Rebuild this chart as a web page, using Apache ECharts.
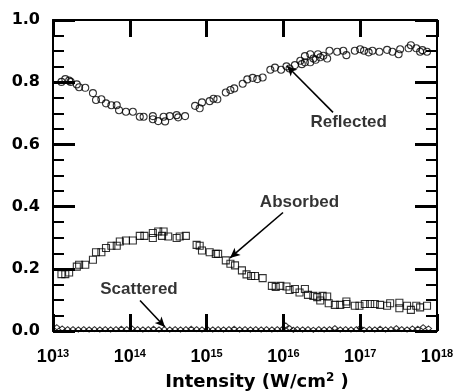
<!DOCTYPE html>
<html><head><meta charset="utf-8">
<script src="https://cdn.jsdelivr.net/npm/echarts/dist/echarts.min.js"></script>
<style>html,body{margin:0;padding:0;background:#fff}#c{width:454px;height:392px}</style>
</head><body><div id="c"></div><script>
// log10 of intensity (W/cm^2) and fractions
const reflectedLogI = [13.11,13.16,13.21,13.23,13.31,13.34,13.42,13.52,13.56,13.63,13.69,13.76,13.83,13.86,13.95,14.04,14.13,14.18,14.30,14.30,14.37,14.44,14.46,14.52,14.61,14.63,14.72,14.85,14.91,14.94,15.04,15.09,15.14,15.25,15.31,15.36,15.47,15.53,15.60,15.66,15.73,15.83,15.89,15.97,16.04,16.08,16.15,16.22,16.24,16.28,16.35,16.39,16.45,16.48,16.52,16.57,16.60,16.70,16.78,16.82,16.93,17.00,17.05,17.11,17.16,17.25,17.35,17.42,17.50,17.52,17.63,17.66,17.73,17.78,17.81,17.87,16.28,16.35,16.42];
const reflected = [0.801,0.810,0.805,0.801,0.793,0.784,0.782,0.765,0.743,0.745,0.732,0.726,0.726,0.710,0.705,0.705,0.689,0.689,0.691,0.681,0.675,0.689,0.674,0.691,0.694,0.687,0.691,0.724,0.716,0.735,0.739,0.747,0.745,0.767,0.775,0.780,0.795,0.809,0.814,0.810,0.815,0.840,0.847,0.840,0.851,0.844,0.855,0.869,0.858,0.864,0.864,0.876,0.890,0.880,0.885,0.876,0.901,0.898,0.901,0.887,0.901,0.906,0.901,0.896,0.901,0.898,0.904,0.898,0.890,0.906,0.909,0.919,0.909,0.898,0.903,0.898,0.884,0.890,0.872];

const absorbedLogI = [13.11,13.16,13.21,13.31,13.34,13.42,13.52,13.56,13.63,13.69,13.76,13.83,13.87,13.95,14.04,14.13,14.19,14.30,14.30,14.37,14.44,14.42,14.50,14.61,14.65,14.73,14.87,14.91,14.94,15.04,15.12,15.15,15.25,15.31,15.37,15.46,15.52,15.58,15.63,15.73,15.85,15.90,15.96,16.04,16.08,16.15,16.21,16.28,16.32,16.39,16.44,16.48,16.51,16.57,16.59,16.67,16.74,16.82,16.82,16.93,16.99,17.06,17.13,17.19,17.26,17.35,17.39,17.51,17.51,17.61,17.66,17.73,17.78,17.87];
const absorbed = [0.183,0.183,0.188,0.207,0.213,0.213,0.229,0.253,0.253,0.267,0.274,0.274,0.288,0.291,0.291,0.306,0.306,0.315,0.299,0.320,0.320,0.306,0.304,0.299,0.304,0.306,0.277,0.274,0.259,0.253,0.248,0.248,0.227,0.216,0.211,0.195,0.182,0.177,0.177,0.170,0.145,0.142,0.145,0.143,0.132,0.135,0.124,0.135,0.116,0.113,0.109,0.098,0.113,0.111,0.089,0.084,0.084,0.095,0.087,0.081,0.081,0.087,0.087,0.087,0.084,0.081,0.089,0.091,0.073,0.081,0.068,0.081,0.076,0.081];

const scatteredLogI = [13.05,13.12,13.19,13.26,13.33,13.40,13.47,13.54,13.61,13.68,13.75,13.82,13.89,13.96,14.03,14.10,14.17,14.24,14.31,14.38,14.45,14.52,14.59,14.66,14.73,14.80,14.87,14.94,15.01,15.08,15.15,15.22,15.29,15.36,15.43,15.50,15.57,15.64,15.71,15.78,15.85,15.92,15.99,16.03,16.08,16.13,16.18,16.25,16.32,16.39,16.46,16.53,16.60,16.67,16.74,16.81,16.88,16.95,17.00,17.05,17.12,17.19,17.26,17.33,17.40,17.47,17.54,17.61,17.68,17.75,17.82,17.89];
const scattered = [0.012,0.008,0.006,0.006,0.005,0.006,0.005,0.006,0.005,0.006,0.005,0.006,0.007,0.006,0.008,0.006,0.005,0.006,0.007,0.005,0.006,0.005,0.006,0.005,0.006,0.007,0.006,0.005,0.006,0.005,0.006,0.005,0.006,0.007,0.005,0.006,0.005,0.006,0.005,0.006,0.005,0.006,0.007,0.018,0.009,0.004,0.006,0.005,0.006,0.004,0.006,0.005,0.006,0.009,0.005,0.006,0.005,0.006,0.010,0.004,0.006,0.005,0.007,0.005,0.006,0.009,0.006,0.005,0.008,0.007,0.012,0.008];

const xTickExponents = [13,14,15,16,17,18];
const yTickLabels = ['0.0','0.2','0.4','0.6','0.8','1.0'];

const annotationNames = ['Reflected','Absorbed','Scattered'];
const annotationText = [[16.85,0.671],[16.21,0.413],[14.12,0.135]];
const annotationArrows = [[[16.646,0.703],[16.047,0.852]],[[15.995,0.381],[15.305,0.235]],[[14.133,0.098],[14.458,0.013]]];

const P = e => Math.pow(10, e);
const pairs = (xs, ys) => xs.map((x, i) => [P(x), ys[i]]);

const chart = echarts.init(document.getElementById('c'), null, {renderer:'canvas'});
function makeX(pos) {
  return {
    type:'log', logBase:10, position:pos, min:P(xTickExponents[0]), max:P(xTickExponents[xTickExponents.length-1]),
    axisLine:{show:true, onZero:false, lineStyle:{color:'#000', width:2}},
    axisTick:{show:true, inside:true, length:17, lineStyle:{color:'#000', width:3}},
    minorTick:{show:false}, splitLine:{show:false}
  };
}
function makeY(pos) {
  return {
    type:'value', position:pos, min:0, max:1, interval:0.2,
    axisLine:{show:true, onZero:false, lineStyle:{color:'#000', width:2}},
    axisTick:{show:true, inside:true, length:22, lineStyle:{color:'#000', width:3}},
    minorTick:{show:true, splitNumber:4, length:11, lineStyle:{color:'#000', width:2}},
    splitLine:{show:false}, minorSplitLine:{show:false}
  };
}
const sym = {color:'rgba(0,0,0,0)', borderColor:'#000', borderWidth:1.1};

const xBottom = makeX('bottom');
xBottom.axisLabel = {show:true, margin:17, formatter:v => '{b|10}{s|' + Math.round(Math.log10(v)) + '}',
  rich:{b:{fontFamily:'Liberation Sans', fontWeight:'bold', fontSize:18, color:'#000'},
        s:{fontFamily:'Liberation Sans', fontWeight:'bold', fontSize:11, color:'#000', padding:[0,0,8,0]}}};
xBottom.name = '{t|Intensity (W/cm}{s|2}{t| )}';
xBottom.nameLocation = 'middle';
xBottom.nameGap = 41;
xBottom.nameTextStyle = {padding:[0,0,0,24], rich:{t:{fontFamily:'DejaVu Sans', fontWeight:'bold', fontSize:18, color:'#000'},
  s:{fontFamily:'DejaVu Sans', fontWeight:'bold', fontSize:12, color:'#000', padding:[0,0,8,0]}}};
const xTop = makeX('top'); xTop.axisLabel = {show:false};
const yLeft = makeY('left');
yLeft.axisLabel = {show:true, margin:13, formatter:v => yTickLabels[Math.round(v*5)],
  fontFamily:'DejaVu Sans', fontWeight:'bold', fontSize:16, color:'#000'};
const yRight = makeY('right'); yRight.axisLabel = {show:false};

chart.setOption({
  animation:false,
  backgroundColor:'#fff',
  grid:{left:53, right:17, top:20, bottom:61, outerBoundsMode:'none', containLabel:false},
  xAxis:[xBottom, xTop],
  yAxis:[yLeft, yRight],
  series:[
    {type:'scatter', name:'Reflected', data:pairs(reflectedLogI, reflected), symbol:'circle', symbolSize:7, itemStyle:sym},
    {type:'scatter', name:'Absorbed', data:pairs(absorbedLogI, absorbed), symbol:'rect', symbolSize:7, itemStyle:sym},
    {type:'scatter', name:'Scattered', data:pairs(scatteredLogI, scattered), symbol:'diamond', symbolSize:[6,5], itemStyle:sym},
    {type:'scatter', name:'labels', symbolSize:1, itemStyle:{color:'rgba(0,0,0,0)'},
      data:annotationNames.map((n,i) => ({name:n, value:[P(annotationText[i][0]), annotationText[i][1]]})),
      label:{show:true, position:'inside', formatter:'{b}', fontFamily:'Liberation Sans', fontWeight:'bold', fontSize:17, color:'#000'},
      markLine:{silent:true, symbol:['none','arrow'], symbolSize:[7,10], label:{show:false},
        lineStyle:{color:'#000', width:1.6, type:'solid'},
        data:annotationArrows.map(a => [{coord:[P(a[0][0]), a[0][1]]},{coord:[P(a[1][0]), a[1][1]]}])}
    }
  ]
});
</script></body></html>
